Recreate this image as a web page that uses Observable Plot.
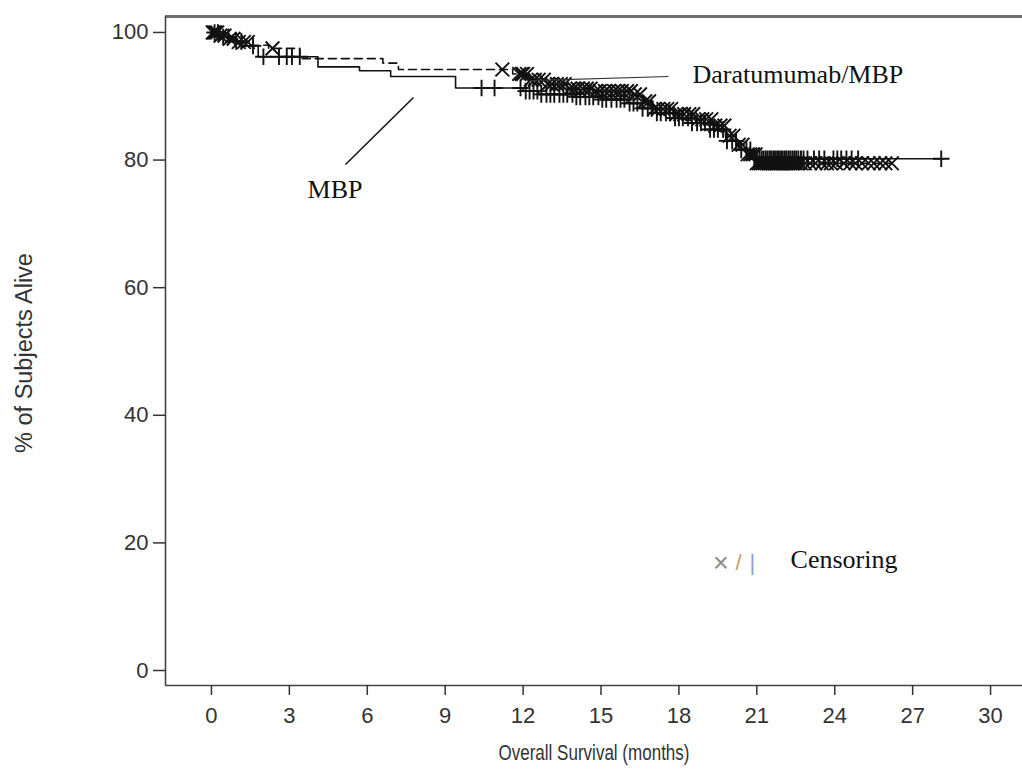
<!DOCTYPE html>
<html>
<head>
<meta charset="utf-8">
<script src="https://cdn.jsdelivr.net/npm/d3@7"></script>
<script src="https://cdn.jsdelivr.net/npm/@observablehq/plot@0.6"></script>
<style>
  html, body { margin: 0; padding: 0; background: white; }
  #chart { width: 1022px; height: 769px; }
</style>
</head>
<body>
<div id="chart"></div>
<script>
// ---- Data ----
// Daratumumab/MBP arm: Kaplan–Meier step times (months) and survival (%)
const daraTimes = [0, 0.3, 0.6, 1.0, 1.5, 2.2, 3.4, 6.6, 7.2, 11.6, 12.3, 12.9, 13.8, 14.8, 16.2, 16.6, 17.0, 17.8, 18.6, 19.3, 19.8, 20.2, 20.6, 21.0];
const daraSurv  = [100, 99.5, 99.0, 98.5, 98.0, 97.5, 95.9, 95.2, 94.2, 93.5, 92.6, 91.9, 91.2, 90.8, 90.3, 89.2, 88.0, 87.2, 86.4, 85.4, 83.8, 82.4, 80.9, 79.5];
const daraEnd = 26.2;
const daraCensor = [0.05, 0.1, 0.15, 0.22, 0.35, 0.5, 0.7, 0.85, 1.05, 1.25, 1.4, 2.35, 11.2, 11.85, 11.95, 12.0, 12.15, 12.3, 12.45, 12.6, 12.8, 12.95, 13.1, 13.3, 13.45, 13.6, 13.8, 13.95, 14.1, 14.3, 14.45, 14.6, 14.8, 14.95, 15.15, 15.3, 15.5, 15.65, 15.8, 16.0, 16.15, 16.3, 16.5, 16.7, 16.85, 17.05, 17.2, 17.4, 17.55, 17.7, 17.9, 18.05, 18.2, 18.4, 18.55, 18.75, 18.9, 19.05, 19.25, 19.4, 19.6, 19.75, 19.95, 20.1, 20.3, 20.45, 20.65, 20.75, 20.85, 20.95, 21.0, 21.08, 21.15, 21.22, 21.3, 21.38, 21.45, 21.52, 21.6, 21.68, 21.75, 21.82, 21.9, 21.98, 22.05, 22.12, 22.2, 22.28, 22.35, 22.42, 22.5, 22.6, 22.7, 22.85, 23.05, 23.25, 23.5, 23.7, 23.85, 24.05, 24.35, 24.6, 24.8, 25.05, 25.3, 25.5, 25.75, 25.95, 26.2];

// MBP arm
const mbpTimes = [0, 0.4, 0.8, 1.2, 1.8, 4.1, 5.7, 6.9, 9.4, 12.0, 12.6, 14.0, 15.0, 16.0, 16.5, 17.0, 17.8, 18.5, 19.2, 19.8, 20.3, 20.8];
const mbpSurv  = [100, 99.3, 98.6, 97.9, 96.2, 94.6, 94.0, 93.1, 91.3, 90.8, 90.3, 89.9, 89.5, 88.9, 88.1, 87.4, 86.6, 85.8, 84.8, 83.0, 81.6, 80.2];
const mbpEnd = 28.2;
const mbpCensor = [0.12, 0.25, 0.45, 0.65, 0.95, 1.15, 1.6, 2.0, 2.6, 2.9, 3.1, 3.4, 10.4, 10.9, 11.9, 12.1, 12.25, 12.4, 12.55, 12.7, 12.9, 13.05, 13.2, 13.4, 13.55, 13.7, 13.9, 14.05, 14.2, 14.4, 14.55, 14.7, 14.9, 15.05, 15.2, 15.4, 15.6, 15.75, 15.9, 16.1, 16.25, 16.4, 16.6, 16.8, 16.95, 17.15, 17.3, 17.5, 17.65, 17.85, 18.0, 18.15, 18.35, 18.5, 18.7, 18.85, 19.0, 19.2, 19.35, 19.5, 19.7, 19.85, 20.05, 20.2, 20.4, 20.6, 20.75, 20.9, 21.0, 21.1, 21.18, 21.25, 21.33, 21.4, 21.48, 21.55, 21.63, 21.7, 21.78, 21.85, 21.93, 22.0, 22.08, 22.15, 22.23, 22.3, 22.38, 22.45, 22.52, 22.6, 22.7, 22.8, 22.95, 23.2, 23.4, 23.6, 23.95, 24.1, 24.25, 24.45, 24.65, 24.9, 28.1];

// Axis ticks
const xTicks = [0, 3, 6, 9, 12, 15, 18, 21, 24, 27, 30];
const yTicks = [0, 20, 40, 60, 80, 100];
const xDomain = [-1.77, 31.23];
const yDomain = [-2.35, 102.5];

// Labels (anchor positions in data units)
const seriesLabels = [
  {text: "Daratumumab/MBP", t: 18.52, s: 92.0},
  {text: "MBP", t: 3.70, s: 74.1}
];
const leaders = [
  {t1: 12.28, s1: 92.45, t2: 17.6, s2: 93.1, c: "#333", w: 1.1},
  {t1: 5.16, s1: 79.3, t2: 7.78, s2: 89.8, c: "#111", w: 1.5}
];
const legendGlyphs = [
  {g: "×", t: 19.62, s: 16.8, c: "#8c8c8c", f: 27},
  {g: "/", t: 20.3, s: 16.8, c: "#c99a62", f: 22},
  {g: "|", t: 20.83, s: 16.8, c: "#8ea2c4", f: 22}
];
const legendText = {text: "Censoring", t: 22.3, s: 16.1};

// ---- Build tables ----
function curve(times, surv, end) {
  const rows = times.map((t, i) => ({t, s: surv[i]}));
  rows.push({t: end, s: surv[surv.length - 1]});
  return rows;
}
function censorRows(times, surv, cens) {
  return cens.map(t => {
    const i = Math.max(0, d3.bisectRight(times, t) - 1);
    return {t, s: surv[i]};
  });
}
const dara = curve(daraTimes, daraSurv, daraEnd);
const mbp = curve(mbpTimes, mbpSurv, mbpEnd);
const daraC = censorRows(daraTimes, daraSurv, daraCensor);
const mbpC = censorRows(mbpTimes, mbpSurv, mbpCensor);

const serif = "'Liberation Serif', 'Times New Roman', serif";
const sans = "'Liberation Sans', Arial, sans-serif";
const xTitle = "Overall Survival (months)";

const chart = Plot.plot({
  width: 1022,
  height: 769,
  marginLeft: 165,
  marginRight: 0,
  marginTop: 16,
  marginBottom: 84,
  x: {domain: xDomain},
  y: {domain: yDomain},
  style: {fontFamily: sans, fontSize: "22px", color: "#333", background: "white", overflow: "visible"},
  marks: [
    Plot.ruleY([yDomain[1]], {stroke: "#6e6e6e", strokeWidth: 3.2}),
    Plot.ruleX([xDomain[0]], {stroke: "#444", strokeWidth: 1.6}),
    Plot.ruleY([yDomain[0]], {stroke: "#444", strokeWidth: 1.6}),
    Plot.axisY({ticks: yTicks, tickSize: 12, tickPadding: 5, label: null, fontSize: 22, strokeWidth: 1.5}),
    Plot.axisX({ticks: xTicks, tickSize: 10, tickPadding: 12, label: null, fontSize: 22, strokeWidth: 1.5}),
    Plot.text([xTitle], {frameAnchor: "bottom", dy: 74, lineAnchor: "bottom", textAnchor: "middle", fontSize: 21.5, fill: "#333"}),
    Plot.text(["% of Subjects Alive"], {frameAnchor: "left", dx: -141, dy: 2, rotate: -90, textAnchor: "middle", lineAnchor: "middle", fontSize: 23.5, fill: "#333"}),
    Plot.line(dara, {x: "t", y: "s", curve: "step-after", stroke: "#111", strokeWidth: 1.6, strokeDasharray: "8 5"}),
    Plot.line(mbp, {x: "t", y: "s", curve: "step-after", stroke: "#111", strokeWidth: 1.6}),
    Plot.dot(daraC, {x: "t", y: "s", symbol: "times", r: 6.3, stroke: "#111", strokeWidth: 1.9}),
    Plot.dot(mbpC, {x: "t", y: "s", symbol: "plus", r: 5.4, stroke: "#111", strokeWidth: 1.9}),
    Plot.link(leaders, {x1: "t1", y1: "s1", x2: "t2", y2: "s2", stroke: "c", strokeWidth: "w"}),
    Plot.text(seriesLabels, {x: "t", y: "s", text: "text", textAnchor: "start", lineAnchor: "bottom", fontFamily: serif, fontSize: 26, fill: "#111"}),
    Plot.text(legendGlyphs, {x: "t", y: "s", text: "g", fill: "c", fontSize: "f", textAnchor: "middle", lineAnchor: "middle"}),
    Plot.text([legendText], {x: "t", y: "s", text: "text", textAnchor: "start", lineAnchor: "bottom", fontFamily: serif, fontSize: 26, fill: "#111"})
  ]
});
// The reference's x-axis title is set in a condensed face: squeeze it to the same width.
d3.select(chart).selectAll("text").filter(function() { return this.textContent === xTitle; })
  .attr("textLength", 191).attr("lengthAdjust", "spacingAndGlyphs");
document.getElementById("chart").appendChild(chart);
</script>
</body>
</html>
